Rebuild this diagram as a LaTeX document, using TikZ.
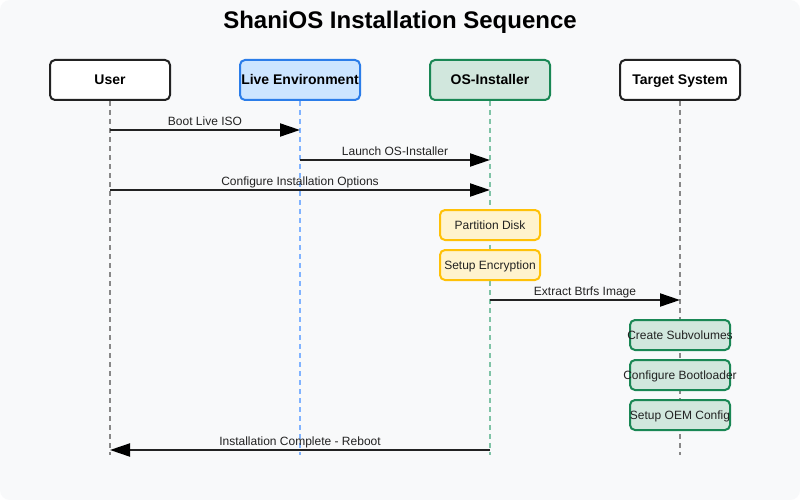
\documentclass[tikz,border=0pt]{standalone}
\usepackage{fontspec}
\setmainfont{Liberation Sans}
\usetikzlibrary{arrows.meta}
\definecolor{bg}{HTML}{F8F9FA}
\definecolor{ink}{HTML}{222222}
\definecolor{liveb}{HTML}{2B7DE9}
\definecolor{livef}{HTML}{CCE5FF}
\definecolor{greenb}{HTML}{198754}
\definecolor{greenf}{HTML}{D1E7DD}
\definecolor{yelb}{HTML}{FFC107}
\definecolor{yelf}{HTML}{FFF3CD}
\definecolor{lgray}{HTML}{888888}
\definecolor{lblue}{HTML}{80B3FF}
\definecolor{lgreen}{HTML}{7FC3A6}
\tikzset{
  actor/.style={draw=ink, line width=2pt, rounded corners=5pt, minimum width=120pt, minimum height=40pt, inner sep=0pt, font=\bfseries\fontsize{14}{16}\selectfont, text=black, fill=white, text height=10pt, text depth=0pt},
  act/.style={line width=2pt, rounded corners=5pt, minimum width=100pt, minimum height=30pt, inner sep=0pt},
  acttext/.style={font=\fontsize{12}{14}\selectfont, text=ink, inner sep=0pt, text height=8.6pt, text depth=0pt},
  yact/.style={act, draw=yelb, fill=yelf},
  gact/.style={act, draw=greenb, fill=greenf},
  life/.style={line width=2pt, dash pattern=on 5pt off 4pt},
  msg/.style={draw=ink, line width=2pt, -{Triangle[length=20pt,width=13pt,black]}},
  mlabel/.style={font=\fontsize{12}{14}\selectfont, text=ink, anchor=base, inner sep=0pt, yshift=5pt},
}
\begin{document}
\begin{tikzpicture}[x=1pt,y=-1pt]
\useasboundingbox (0,0) rectangle (800,500);
\fill[white] (0,0) rectangle (800,500);
\fill[bg, rounded corners=10pt] (0,0) rectangle (800,500);
\node[font=\bfseries\fontsize{24}{28}\selectfont] (title) at (400,22) {ShaniOS Installation Sequence};
% lifelines
\coordinate (uE) at (110,455);
\coordinate (lE) at (300,455);
\coordinate (oE) at (490,455);
\coordinate (tE) at (680,455);
\node[actor] (user) at (110,80) {User};
\node[actor, draw=liveb, fill=livef] (live) at (300,80) {Live Environment};
\node[actor, draw=greenb, fill=greenf] (osi) at (490,80) {OS-Installer};
\node[actor] (tgt) at (680,80) {Target System};
\draw[life, draw=lgray] (user.south) -- (uE);
\draw[life, draw=lblue] (live.south) -- (lE);
\draw[life, draw=lgreen] (osi.south) -- (oE);
\draw[life, draw=lgray] (tgt.south) -- (tE);
% activity boxes
\node[yact] (part) at (490,225) {};
\node[acttext] (partT) at (part.center) {Partition Disk};
\node[yact] (enc) at (490,265) {};
\node[acttext] (encT) at (enc.center) {Setup Encryption};
\node[gact] (sub) at (680,335) {};
\node[acttext] (subT) at (sub.center) {Create Subvolumes};
\node[gact] (boot) at (680,375) {};
\node[acttext] (bootT) at (boot.center) {Configure Bootloader};
\node[gact] (oem) at (680,415) {};
\node[acttext] (oemT) at (oem.center) {Setup OEM Config};
% message points
\coordinate (u1) at (110,130); \coordinate (l1) at (300,130);
\coordinate (l2) at (300,160); \coordinate (o2) at (490,160);
\coordinate (u3) at (110,190); \coordinate (o3) at (490,190);
\coordinate (o4) at (490,300); \coordinate (t4) at (680,300);
\coordinate (o5) at (490,450); \coordinate (u5) at (110,450);
\draw[msg] (u1) -- node[mlabel]{Boot Live ISO} (l1);
\draw[msg] (l2) -- node[mlabel]{Launch OS-Installer} (o2);
\draw[msg] (u3) -- node[mlabel]{Configure Installation Options} (o3);
\draw[msg] (o4) -- node[mlabel]{Extract Btrfs Image} (t4);
\draw[msg] (o5) -- node[mlabel]{Installation Complete - Reboot} (u5);
\end{tikzpicture}
\end{document}
